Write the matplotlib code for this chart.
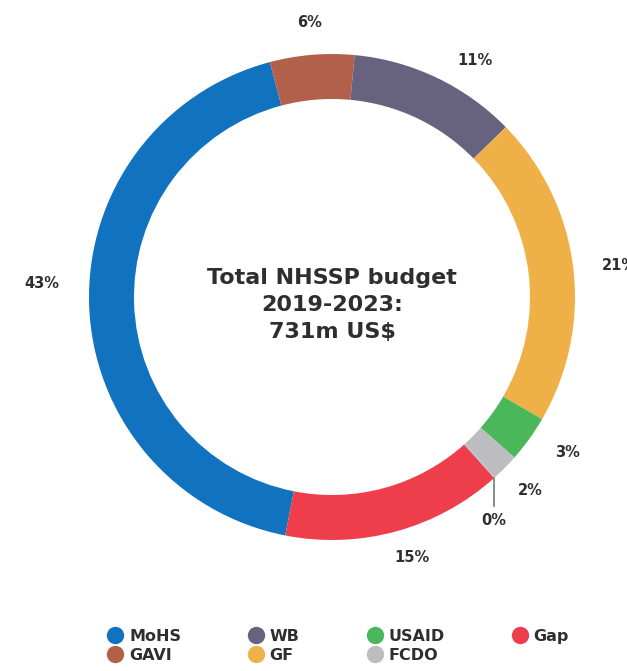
import numpy as np
import matplotlib.pyplot as plt
from matplotlib.lines import Line2D

# budget share by funder, % of total (clockwise from the bottom-left)
funders = ['MoHS', 'GAVI', 'WB', 'GF', 'USAID', 'FCDO', 'Other', 'Gap']
shares = [42.8, 5.6, 11.2, 20.7, 3.1, 1.8, 0.1, 14.7]
colors = ['#1172bf', '#b3604a', '#67637f', '#f0b048', '#4ab85a', '#bcbdc1', '#bcbdc1', '#ef3e4b']
legend_names = ['MoHS', 'GAVI', 'WB', 'GF', 'USAID', 'FCDO', 'Gap']
title_lines = ['Total NHSSP budget', '2019-2023:', '731m US$']

# hand nudges for the percentage labels, in pixels (right, up)
nudge = {'MoHS': (-2, 23), 'GAVI': (0, 2), 'WB': (23, -15), 'GF': (2, -4),
         'USAID': (4, 11), 'FCDO': (-4, 5), 'Gap': (7, 6)}

plt.rcParams['font.family'] = ['DejaVu Sans']
txt = '#2e2e2e'

fig = plt.figure(figsize=(6.27, 6.71), dpi=100)
ax = fig.add_axes([0, 0, 1, 1])
R = 243.0  # ring radius in pixels
cx, cy = 332, 297

wedges, _ = ax.pie(shares, colors=colors, radius=1.0, startangle=-101.1,
                   counterclock=False, wedgeprops=dict(width=45 / R, linewidth=0))
ax.set_xlim(-cx / R, (627 - cx) / R)
ax.set_ylim(-(671 - cy) / R, cy / R)
ax.set_aspect('auto')
ax.axis('off')

# percentage labels around the ring
for w, name, val in zip(wedges, funders, shares):
    mid = np.deg2rad((w.theta1 + w.theta2) / 2)
    lab = '%d%%' % round(val)
    if name == 'Other':
        x0 = np.cos(np.deg2rad(w.theta1))
        y0 = np.sin(np.deg2rad(w.theta1))
        ax.plot([x0, x0], [y0, y0 - 28 / R], color='#777777', lw=1.2)
        ax.text(x0, y0 - 42 / R, lab, ha='center', va='center',
                fontsize=10.5, fontweight='bold', color=txt)
        continue
    r = (272 + 16 * abs(np.cos(mid))) / R
    dx, dy = nudge[name]
    ax.text(r * np.cos(mid) + dx / R, r * np.sin(mid) + dy / R, lab,
            ha='center', va='center', fontsize=10.5, fontweight='bold', color=txt)

ax.text(0, -8 / R, '\n'.join(title_lines), ha='center', va='center',
        fontsize=16, fontweight='bold', color=txt, linespacing=1.45)

handles = [Line2D([], [], marker='o', ls='', markersize=12.5,
                  markerfacecolor=colors[funders.index(n)], markeredgewidth=0)
           for n in legend_names]
fig.legend(handles, legend_names, ncol=4, loc='center',
           bbox_to_anchor=(338 / 627, 1 - 646 / 671),
           frameon=False, prop=dict(size=11.5, weight='bold'), labelcolor=txt,
           handletextpad=0.35, columnspacing=4.2, handlelength=1.0, labelspacing=0.25)

fig.savefig('out.png', dpi=100)
